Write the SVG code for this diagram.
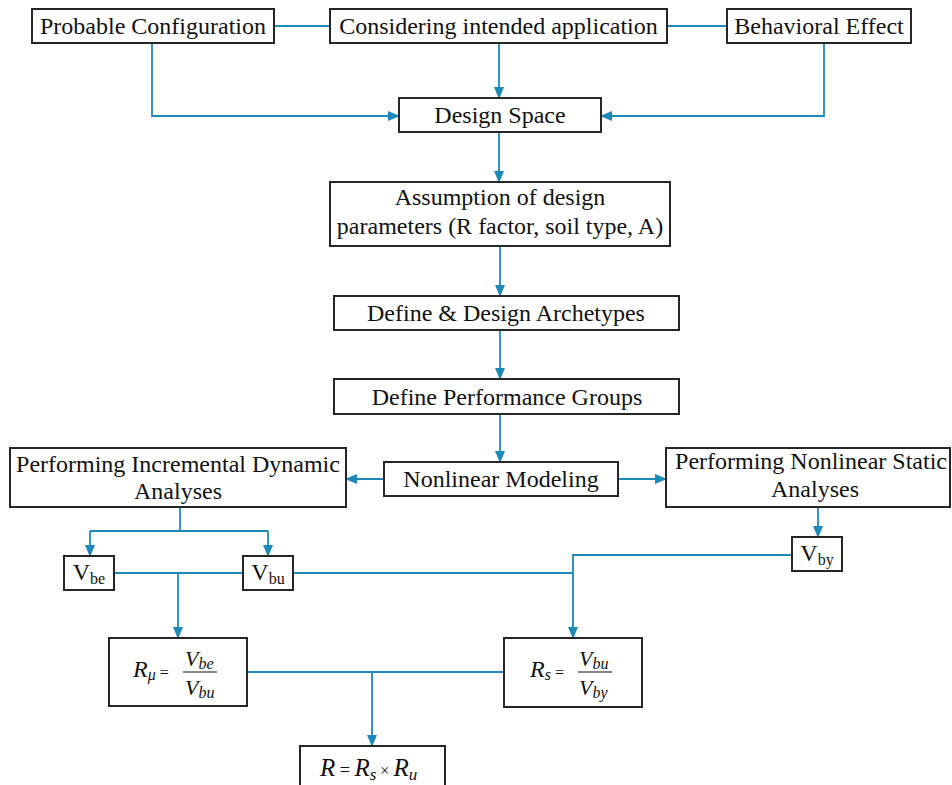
<svg xmlns="http://www.w3.org/2000/svg" width="952" height="785" viewBox="0 0 952 785" font-family="Liberation Serif, Times New Roman, Times, DejaVu Serif, serif">
<style>
.b{fill:#fff;stroke:#262626;stroke-width:2}
.t{font-size:24px;fill:#111;text-anchor:middle}
.m{font-size:22px;font-style:italic;fill:#111}
.n{font-style:normal;font-size:16px}
.c{fill:none;stroke:#1c89b8;stroke-width:1.8}
.a{marker-end:url(#ah)}
</style>
<defs>
<marker id="ah" markerUnits="userSpaceOnUse" markerWidth="12" markerHeight="10" refX="11" refY="5" orient="auto">
<path d="M0,0 L12,5 L0,10 z" fill="#1c89b8"/>
</marker>
</defs>
<rect width="952" height="785" fill="#fff"/>
<g id="connectors">
<path class="c" d="M275,26 H330"/>
<path class="c" d="M667,26 H727"/>
<path class="c a" d="M152,43 V116 H399"/>
<path class="c a" d="M499,43 V98"/>
<path class="c a" d="M824,43 V116 H601"/>
<path class="c a" d="M499,132 V182"/>
<path class="c a" d="M500,246 V296"/>
<path class="c a" d="M500,330 V379"/>
<path class="c a" d="M500,414 V462"/>
<path class="c a" d="M384,479 H346"/>
<path class="c a" d="M618,479 H666"/>
<path class="c" d="M180,507 V531 M90,531 H268"/>
<path class="c a" d="M90,531 V556"/>
<path class="c a" d="M268,531 V556"/>
<path class="c" d="M114,573 H243 M293,573 H572"/>
<path class="c a" d="M178,573 V638"/>
<path class="c a" d="M818,507 V537"/>
<path class="c a" d="M792,555 H573 V638"/>
<path class="c" d="M247,672 H504"/>
<path class="c a" d="M372,672 V746"/>
</g>
<g id="probable"><rect class="b" x="32" y="9" width="242" height="34"/><text class="t" x="153" y="34">Probable Configuration</text></g>
<g id="considering"><rect class="b" x="330" y="9" width="337" height="34"/><text class="t" x="498.5" y="34">Considering intended application</text></g>
<g id="behavioral"><rect class="b" x="727" y="9" width="184" height="34"/><text class="t" x="819" y="34">Behavioral Effect</text></g>
<g id="designspace"><rect class="b" x="399" y="98" width="202" height="34"/><text class="t" x="500" y="123">Design Space</text></g>
<g id="assumption"><rect class="b" x="330" y="182" width="340" height="64"/><text class="t" x="500" y="205">Assumption of design</text><text class="t" x="500" y="234">parameters (R factor, soil type, A)</text></g>
<g id="archetypes"><rect class="b" x="334" y="296" width="345" height="34"/><text class="t" x="506" y="321">Define &amp; Design Archetypes</text></g>
<g id="perfgroups"><rect class="b" x="334" y="379" width="345" height="35"/><text class="t" x="507" y="405">Define Performance Groups</text></g>
<g id="nonlinear"><rect class="b" x="384" y="462" width="234" height="34"/><text class="t" x="501" y="487">Nonlinear Modeling</text></g>
<g id="ida"><rect class="b" x="10" y="448" width="336" height="59"/><text class="t" x="178" y="472">Performing Incremental Dynamic</text><text class="t" x="178" y="499">Analyses</text></g>
<g id="nls"><rect class="b" x="666" y="448" width="284" height="59"/><text class="t" x="811" y="469">Performing Nonlinear Static</text><text class="t" x="815" y="497">Analyses</text></g>
<g id="vbe"><rect class="b" x="64" y="556" width="50" height="34"/><text class="t" x="89" y="580">V<tspan font-size="16" dy="4">be</tspan></text></g>
<g id="vbu"><rect class="b" x="243" y="556" width="50" height="34"/><text class="t" x="268" y="580">V<tspan font-size="16" dy="4">bu</tspan></text></g>
<g id="vby"><rect class="b" x="792" y="537" width="50" height="34"/><text class="t" x="817" y="561">V<tspan font-size="16" dy="4">by</tspan></text></g>
<g id="rmu"><rect class="b" x="109" y="638" width="138" height="68"/>
<text class="m" x="133" y="677" style="font-size:24px">R<tspan font-size="16" dy="3">μ</tspan><tspan class="n" dy="-2"> = </tspan></text>
<text class="m" x="185" y="666">V<tspan font-size="16" dy="3">be</tspan></text>
<line x1="183" y1="672" x2="217" y2="672" stroke="#111" stroke-width="1"/>
<text class="m" x="185" y="695">V<tspan font-size="16" dy="3">bu</tspan></text>
</g>
<g id="rs"><rect class="b" x="504" y="638" width="138" height="69"/>
<text class="m" x="530" y="677" style="font-size:24px">R<tspan font-size="16" dy="3">s</tspan><tspan class="n" dy="-2"> = </tspan></text>
<text class="m" x="579" y="666">V<tspan font-size="16" dy="3">bu</tspan></text>
<line x1="578" y1="672" x2="612" y2="672" stroke="#111" stroke-width="1"/>
<text class="m" x="579" y="695">V<tspan font-size="16" dy="3">by</tspan></text>
</g>
<g id="r"><rect class="b" x="300" y="746" width="145" height="50"/>
<text class="m" x="320" y="776" style="font-size:25px">R<tspan class="n" style="font-size:18px"> = </tspan>R<tspan font-size="17" dy="4">s</tspan><tspan class="n" dy="-4"> × </tspan>R<tspan font-size="17" dy="4">u</tspan></text>
</g>
</svg>
